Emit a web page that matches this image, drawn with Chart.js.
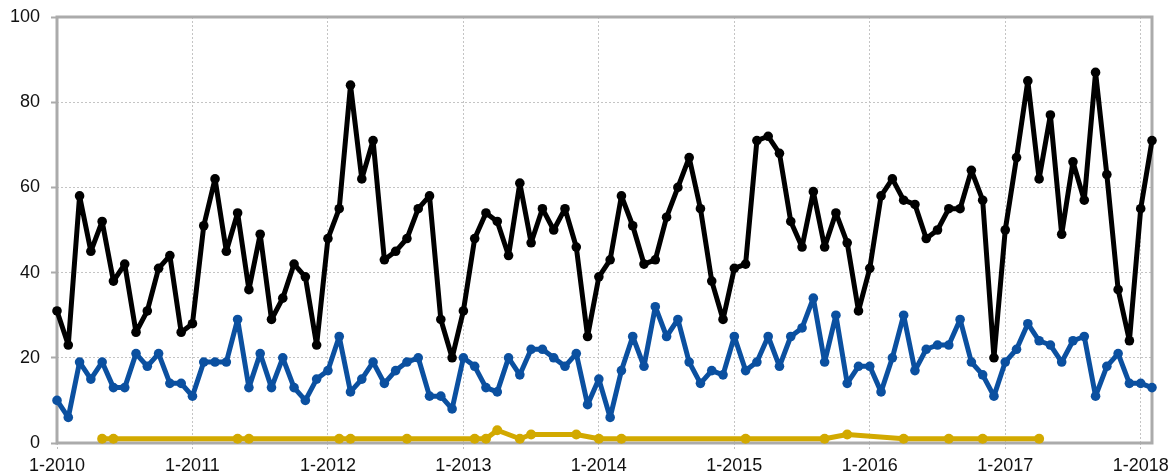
<!DOCTYPE html>
<html>
<head>
<meta charset="utf-8">
<script src="https://cdn.jsdelivr.net/npm/chart.js@4/dist/chart.umd.min.js"></script>
<style>
  html, body { margin: 0; padding: 0; background: #fff; }
  #wrap { width: 1172px; height: 476px; }
</style>
</head>
<body>
<div id="wrap"><canvas id="c" width="1172" height="476"></canvas></div>
<script>
// Monthly categories Jan 2010 .. Feb 2018
const startYear = 2010;
const monthCount = 98;
const categories = [];
for (let i = 0; i < monthCount; i++) {
  categories.push((i % 12 + 1) + '-' + (startYear + Math.floor(i / 12)));
}

const blackSeries = [
  31,23,58,45,52,38,42,26,31,41,44,26,28,51,62,45,54,36,49,29,34,42,39,23,48,55,
  84,62,71,43,45,48,55,58,29,20,31,48,54,52,44,61,47,55,50,55,46,25,39,43,58,
  51,42,43,53,60,67,55,38,29,41,42,71,72,68,52,46,59,46,54,47,31,41,58,62,
  57,56,48,50,55,55,64,57,20,50,67,85,62,77,49,66,57,87,63,36,24,55,71
];

const blueSeries = [
  10,6,19,15,19,13,13,21,18,21,14,14,11,19,19,19,29,13,21,13,20,13,10,15,17,25,
  12,15,19,14,17,19,20,11,11,8,20,18,13,12,20,16,22,22,20,18,21,9,15,6,
  17,25,18,32,25,29,19,14,17,16,25,17,19,25,18,25,27,34,19,30,14,18,18,12,20,
  30,17,22,23,23,29,19,16,11,19,22,28,24,23,19,24,25,11,18,21,14,14,13
];

const yellowSeries = [
  null,null,null,null,1,1,null,null,null,null,null,null,
  null,null,null,null,1,1,null,null,null,null,null,null,
  null,1,1,null,null,null,null,1,null,null,null,null,
  null,1,1,3,null,1,2,null,null,null,2,null,
  1,null,1,null,null,null,null,null,null,null,null,null,
  null,1,null,null,null,null,null,null,1,null,2,null,
  null,null,null,1,null,null,null,1,null,null,1,null,
  null,null,null,1,null,null,null,null,null,null,null,null,
  null,null
];

const yTicks = [0, 20, 40, 60, 80, 100];

const framePlugin = {
  id: 'frame',
  beforeDatasetsDraw(chart) {
    const a = chart.chartArea, ctx = chart.ctx;
    ctx.save();
    ctx.strokeStyle = '#ababab';
    ctx.lineWidth = 3;
    ctx.strokeRect(a.left, a.top, a.right - a.left, a.bottom - a.top);
    ctx.restore();
  }
};

const font = { family: "'Liberation Sans', Arial, Helvetica, sans-serif", size: 18 };

new Chart(document.getElementById('c'), {
  type: 'line',
  data: {
    labels: categories,
    datasets: [
      { label: 'C', data: yellowSeries, borderColor: '#d2a900', backgroundColor: '#d2a900',
        borderWidth: 5, pointRadius: 5, pointBorderWidth: 0, spanGaps: true, clip: false, tension: 0 },
      { label: 'A', data: blackSeries, borderColor: '#000000', backgroundColor: '#000000',
        borderWidth: 5, pointRadius: 4.8, pointBorderWidth: 0, clip: false, tension: 0 },
      { label: 'B', data: blueSeries, borderColor: '#0b50a0', backgroundColor: '#0b50a0',
        borderWidth: 5, pointRadius: 4.8, pointBorderWidth: 0, clip: false, tension: 0 }
    ]
  },
  options: {
    responsive: false,
    animation: false,
    devicePixelRatio: 1,
    layout: { padding: { left: 0, right: 20, top: 17, bottom: 0 } },
    plugins: { legend: { display: false }, tooltip: { enabled: false } },
    elements: { line: { borderJoinStyle: 'round', borderCapStyle: 'round' } },
    scales: {
      x: {
        type: 'category',
        offset: false,
        afterFit(s) { s.height = 33; s.paddingLeft = 0; s.paddingRight = 0; },
        border: { display: false, dash: [2, 2] },
        grid: { color: '#c4c4c4', lineWidth: 1, tickLength: 6, tickColor: '#bdbdbd',
                tickBorderDash: [2, 2], drawOnChartArea: true },
        ticks: {
          autoSkip: false, maxRotation: 0, minRotation: 0, padding: 6,
          color: '#111', font: font,
          callback(v, i) { return (i % 12 === 0) ? categories[i] : null; }
        }
      },
      y: {
        min: 0, max: 100,
        afterFit(s) { s.width = 57; s.paddingTop = 0; s.paddingBottom = 0; },
        afterBuildTicks(s) { s.ticks = yTicks.map(v => ({ value: v })); },
        border: { display: false, dash: [2, 2] },
        grid: { color: '#c4c4c4', lineWidth: 1, tickLength: 6, tickColor: '#ababab',
                tickWidth: 2, tickBorderDash: [] },
        ticks: { padding: 11, color: '#111', font: font }
      }
    }
  },
  plugins: [framePlugin]
});
</script>
</body>
</html>
